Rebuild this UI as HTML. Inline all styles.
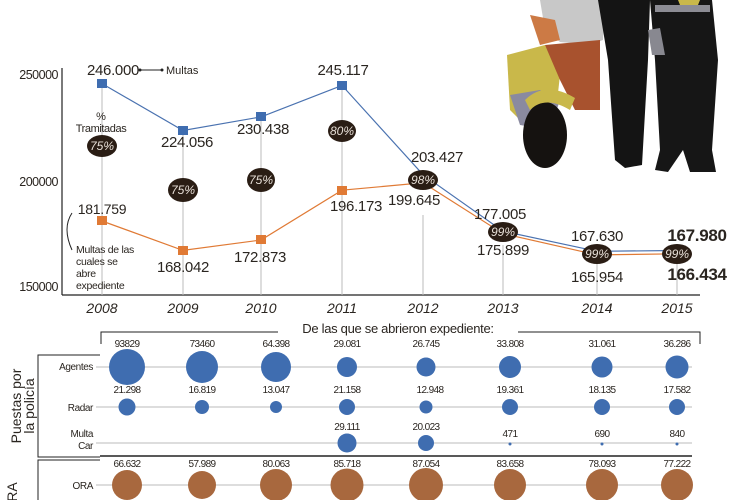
<!DOCTYPE html>
<html><head><meta charset="utf-8"><style>
html,body{margin:0;padding:0;background:#fff}
svg{display:block}
text{font-family:"Liberation Sans",sans-serif;fill:#2a2520}
</style></head><body>
<svg width="730" height="500" viewBox="0 0 730 500">
<!-- photo -->
<g>
<path d="M540 0 L605 0 L603 40 L590 45 L560 42 L545 30 Z" fill="#c8c8c8"/>
<path d="M530 15 L555 20 L560 40 L540 45 Z" fill="#cc7a45"/>
<path d="M507 55 L545 45 L560 75 L555 120 L530 130 L510 110 Z" fill="#c9b84a"/>
<path d="M510 95 L540 90 L560 100 L550 130 L520 125 Z" fill="#8a8aa0"/>
<path d="M545 45 L600 40 L600 110 L575 110 L560 80 Z" fill="#a8522e"/>
<ellipse cx="545" cy="135" rx="22" ry="33" fill="#151210"/>
<path d="M525 100 Q545 80 575 98 L570 110 Q545 95 530 110 Z" fill="#c9b84a"/>
<path d="M598 0 L650 0 L648 60 L642 165 L625 168 L615 160 L608 60 Z" fill="#141414"/>
<path d="M650 0 L712 0 L718 60 L712 150 L716 172 L690 172 L683 150 L668 172 L655 170 L660 150 L655 60 Z" fill="#161616"/>
<path d="M648 30 L660 28 L665 55 L652 55 Z" fill="#888890"/>
<path d="M655 5 L710 5 L710 12 L655 12 Z" fill="#8c8c94"/>
<path d="M678 0 L700 0 L698 5 L680 5 Z" fill="#c9b84a"/>
</g>
<!-- axes -->
<line x1="62" y1="68" x2="62" y2="295" stroke="#222" stroke-width="1.2"/>
<line x1="62" y1="295" x2="700" y2="295" stroke="#222" stroke-width="1.2"/>
<g font-size="12.5" text-anchor="end" letter-spacing="-0.5">
<text x="58" y="79">250000</text>
<text x="58" y="186">200000</text>
<text x="58" y="291">150000</text>
</g>
<g stroke="#bbb" stroke-width="1">
<line x1="102" y1="84" x2="102" y2="295"/><line x1="183" y1="131" x2="183" y2="295"/>
<line x1="261" y1="117" x2="261" y2="295"/><line x1="342" y1="85" x2="342" y2="295"/>
<line x1="423" y1="215" x2="423" y2="295"/><line x1="503" y1="245" x2="503" y2="295"/>
<line x1="597" y1="262" x2="597" y2="295"/><line x1="677" y1="262" x2="677" y2="295"/>
</g>
<polyline fill="none" stroke="#4a72b0" stroke-width="1.2" points="102,83.6 183,130.5 261,116.9 342,85.4 423,174.7 503,231.2 597,251.3 677,250.5"/>
<polyline fill="none" stroke="#e07a35" stroke-width="1.2" points="102,221 183,250.4 261,240 342,190.2 423,182.8 503,233.6 597,254.9 677,253.8"/>
<g fill="#3f6db0">
<rect x="97" y="79" width="10" height="9"/><rect x="178" y="126" width="10" height="9"/><rect x="256" y="112" width="10" height="9"/><rect x="337" y="81" width="10" height="9"/>
</g>
<g fill="#e07a35">
<rect x="97" y="216" width="10" height="9"/><rect x="178" y="246" width="10" height="9"/><rect x="256" y="235" width="10" height="9"/><rect x="337" y="186" width="10" height="9"/>
</g>
<!-- ovals -->
<g fill="#2a1d14">
<ellipse cx="102" cy="146" rx="15" ry="11"/><ellipse cx="183" cy="190" rx="15" ry="12"/>
<ellipse cx="261" cy="180" rx="14" ry="12"/><ellipse cx="342" cy="131" rx="14" ry="11"/>
<ellipse cx="423" cy="180" rx="15" ry="10"/><ellipse cx="503" cy="232" rx="15" ry="10"/>
<ellipse cx="597" cy="254" rx="15" ry="10"/><ellipse cx="677" cy="254" rx="15" ry="10"/>
</g>
<g font-size="12" text-anchor="middle" font-style="italic">
<text x="102" y="150" style="fill:#e8e0d8">75%</text><text x="183" y="194" style="fill:#e8e0d8">75%</text>
<text x="261" y="184" style="fill:#e8e0d8">75%</text><text x="342" y="135" style="fill:#e8e0d8">80%</text>
<text x="423" y="184" style="fill:#e8e0d8">98%</text><text x="503" y="236" style="fill:#e8e0d8">99%</text>
<text x="597" y="258" style="fill:#e8e0d8">99%</text><text x="677" y="258" style="fill:#e8e0d8">99%</text>
</g>
<!-- value labels -->
<g font-size="15" text-anchor="middle" letter-spacing="-0.3">
<text x="113" y="75">246.000</text><text x="187" y="147">224.056</text><text x="263" y="134">230.438</text><text x="343" y="75">245.117</text>
<text x="437" y="162">203.427</text><text x="500" y="219">177.005</text><text x="597" y="241">167.630</text>
<text x="102" y="214" font-size="14">181.759</text><text x="183" y="272">168.042</text><text x="260" y="262">172.873</text><text x="356" y="211">196.173</text>
<text x="414" y="205">199.645</text><text x="503" y="255">175.899</text><text x="597" y="282">165.954</text>
<text x="697" y="241" font-weight="bold" font-size="17">167.980</text><text x="697" y="280" font-weight="bold" font-size="17">166.434</text>
</g>
<line x1="140" y1="70" x2="162" y2="70" stroke="#222"/><circle cx="140" cy="70" r="1.5" fill="#222"/><circle cx="162" cy="70" r="1.5" fill="#222"/>
<text x="166" y="74" font-size="11">Multas</text>
<text x="101" y="120" font-size="11" text-anchor="middle">%</text>
<text x="101" y="132" font-size="11" text-anchor="middle" letter-spacing="-0.4">Tramitadas</text>
<path d="M72 213 Q62 228 72 250" fill="none" stroke="#222"/>
<g font-size="10.5" letter-spacing="-0.3"><text x="76" y="253">Multas de las</text><text x="76" y="265">cuales se</text><text x="76" y="277">abre</text><text x="76" y="289">expediente</text></g>
<g font-size="14" font-style="italic" text-anchor="middle">
<text x="102" y="313">2008</text><text x="183" y="313">2009</text><text x="261" y="313">2010</text><text x="342" y="313">2011</text>
<text x="423" y="313">2012</text><text x="503" y="313">2013</text><text x="597" y="313">2014</text><text x="677" y="313">2015</text>
</g>
<!-- bottom -->
<path d="M101 344 L101 332 L278 332 M518 332 L700 332 L700 344" fill="none" stroke="#222"/>
<text x="398" y="333" font-size="13" text-anchor="middle" letter-spacing="-0.3">De las que se abrieron expediente:</text>
<path d="M100 355 L38 355 L38 457 L100 457" fill="none" stroke="#222"/>
<line x1="100" y1="456" x2="692" y2="456" stroke="#222" stroke-width="1.5"/>
<path d="M100 460 L38 460 L38 500" fill="none" stroke="#222"/>
<text transform="translate(21,406) rotate(-90)" font-size="14" text-anchor="middle">Puestas por</text>
<text transform="translate(34,406) rotate(-90)" font-size="14" text-anchor="middle">la policía</text>
<text transform="translate(17,492) rotate(-90)" font-size="14" text-anchor="middle">RA</text>
<g stroke="#bbb"><line x1="96" y1="367" x2="692" y2="367"/><line x1="96" y1="407" x2="692" y2="407"/><line x1="96" y1="443" x2="692" y2="443"/><line x1="96" y1="485" x2="692" y2="485"/></g>
<g font-size="10" text-anchor="end" letter-spacing="-0.4"><text x="93" y="370">Agentes</text><text x="93" y="411">Radar</text><text x="93" y="437">Multa</text><text x="93" y="449">Car</text><text x="93" y="489">ORA</text></g>
<g fill="#3f6db0">
<circle cx="127" cy="367" r="18"/><circle cx="202" cy="367" r="16"/><circle cx="276" cy="367" r="15"/><circle cx="347" cy="367" r="10"/>
<circle cx="426" cy="367" r="9.5"/><circle cx="510" cy="367" r="11"/><circle cx="602" cy="367" r="10.5"/><circle cx="677" cy="367" r="11.5"/>
<circle cx="127" cy="407" r="8.5"/><circle cx="202" cy="407" r="7"/><circle cx="276" cy="407" r="6"/><circle cx="347" cy="407" r="8"/>
<circle cx="426" cy="407" r="6.5"/><circle cx="510" cy="407" r="8"/><circle cx="602" cy="407" r="8"/><circle cx="677" cy="407" r="8"/>
<circle cx="347" cy="443" r="9.5"/><circle cx="426" cy="443" r="8"/><circle cx="510" cy="444" r="1.5"/><circle cx="602" cy="444" r="1.5"/><circle cx="677" cy="444" r="1.5"/>
</g>
<g fill="#a8683e">
<circle cx="127" cy="485" r="15"/><circle cx="202" cy="485" r="14"/><circle cx="276" cy="485" r="16"/><circle cx="347" cy="485" r="16.5"/>
<circle cx="426" cy="485" r="17"/><circle cx="510" cy="485" r="16"/><circle cx="602" cy="485" r="16"/><circle cx="677" cy="485" r="16"/>
</g>
<g font-size="10" text-anchor="middle" letter-spacing="-0.6">
<text x="127" y="347">93829</text><text x="202" y="347">73460</text><text x="276" y="347">64.398</text><text x="347" y="347">29.081</text><text x="426" y="347">26.745</text><text x="510" y="347">33.808</text><text x="602" y="347">31.061</text><text x="677" y="347">36.286</text>
<text x="127" y="393">21.298</text><text x="202" y="393">16.819</text><text x="276" y="393">13.047</text><text x="347" y="393">21.158</text><text x="430" y="393">12.948</text><text x="510" y="393">19.361</text><text x="602" y="393">18.135</text><text x="677" y="393">17.582</text>
<text x="347" y="430">29.111</text><text x="426" y="430">20.023</text><text x="510" y="437">471</text><text x="602" y="437">690</text><text x="677" y="437">840</text>
<text x="127" y="467">66.632</text><text x="202" y="467">57.989</text><text x="276" y="467">80.063</text><text x="347" y="467">85.718</text><text x="426" y="467">87.054</text><text x="510" y="467">83.658</text><text x="602" y="467">78.093</text><text x="677" y="467">77.222</text>
</g>
</svg>
</body></html>
